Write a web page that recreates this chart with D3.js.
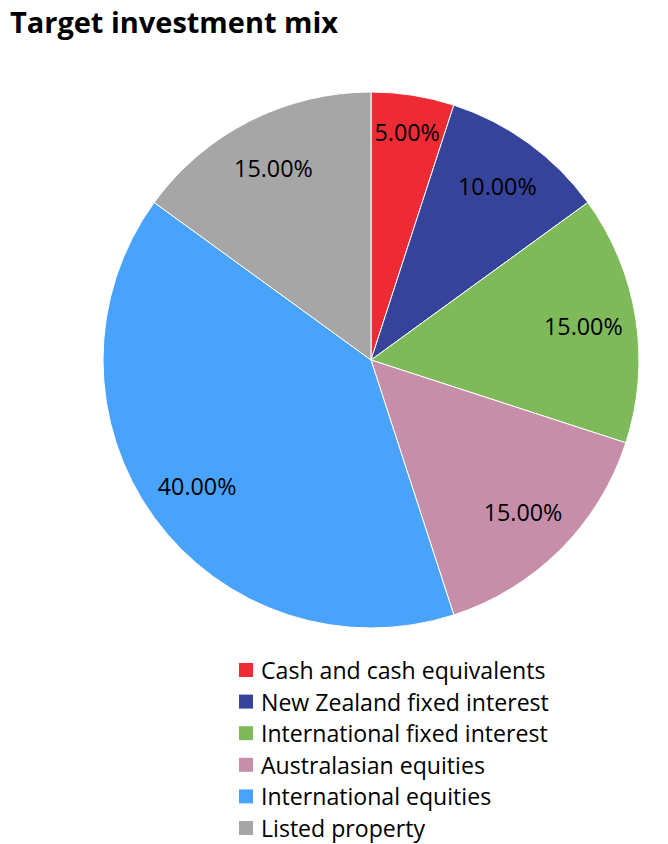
<!DOCTYPE html>
<html><head><meta charset="utf-8">
<script src="https://cdn.jsdelivr.net/npm/d3@7"></script>
<style>body{margin:0;background:#fff}svg{display:block}</style>
</head><body>
<script>
const categories = ["Cash and cash equivalents","New Zealand fixed interest","International fixed interest","Australasian equities","International equities","Listed property"];
const values = [5,10,15,15,40,15];
const labels = ["5.00%","10.00%","15.00%","15.00%","40.00%","15.00%"];
const colors = ["#ee2a35","#35439a","#7fba5a","#c68ea9","#4aa3fb","#a6a6a6"];

const W=668,H=844;
const svg=d3.select("body").append("svg").attr("width",W).attr("height",H);
const font="'Open Sans', Lato, sans-serif";
const title=svg.append("text").attr("x",10).attr("y",33).text("Target investment mix")
  .attr("font-family",font).attr("font-weight","bold").attr("font-size",28).attr("fill","#000")
  .attr("textLength",328).attr("lengthAdjust","spacingAndGlyphs");

const cx=371,cy=360,R=268;
const pie=d3.pie().sort(null).value(d=>d)(values);
const arc=d3.arc().innerRadius(0).outerRadius(R);
const g=svg.append("g").attr("transform",`translate(${cx},${cy})`);
g.selectAll("path").data(pie).join("path").attr("d",arc)
  .attr("fill",(d,i)=>colors[i]).attr("stroke","#fff").attr("stroke-width",1);
// labels: centroid at fixed radius; narrow slices pushed outward so text fits
const lr=d=>(d.endAngle-d.startAngle)<0.5?231:215;
g.selectAll("text").data(pie).join("text")
  .attr("x",d=>lr(d)*Math.sin((d.startAngle+d.endAngle)/2))
  .attr("y",d=>-lr(d)*Math.cos((d.startAngle+d.endAngle)/2))
  .attr("text-anchor","middle").attr("dominant-baseline","central")
  .attr("font-family",font).attr("font-size",23.3).attr("fill","#000")
  .text((d,i)=>labels[i]);

const lg=svg.append("g");
categories.forEach((c,i)=>{
  const y=670+i*31.6;
  lg.append("rect").attr("x",239).attr("y",y-7).attr("width",14).attr("height",14).attr("fill",colors[i]);
  lg.append("text").attr("x",261).attr("y",y).attr("dominant-baseline","central")
    .attr("font-family",font).attr("font-size",23.1).attr("fill","#000").text(c);
});
</script>
</body></html>
